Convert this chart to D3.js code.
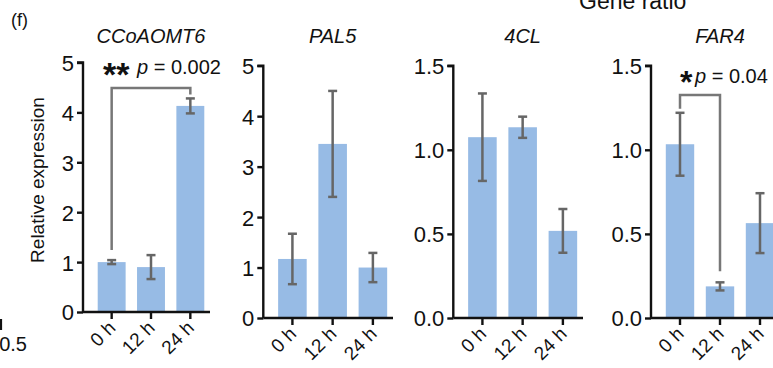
<!DOCTYPE html>
<html><head><meta charset="utf-8">
<script src="https://cdn.jsdelivr.net/npm/d3@7"></script>
<style>
html,body{margin:0;padding:0;background:#fff;}
svg{display:block;font-family:"Liberation Sans",Arial,Helvetica,sans-serif;}
</style></head>
<body>
<svg id="chart" width="773" height="368"></svg>
<script>
// ---- data ----
const categories = ["0 h", "12 h", "24 h"];
const genes = ["CCoAOMT6", "PAL5", "4CL", "FAR4"];
const ccoaomt6Mean = [1.00, 0.90, 4.13];
const ccoaomt6Err  = [0.04, 0.24, 0.15];
const pal5Mean = [1.17, 3.45, 1.00];
const pal5Err  = [0.50, 1.05, 0.29];
const cl4Mean = [1.075, 1.134, 0.518];
const cl4Err  = [0.26, 0.063, 0.13];
const far4Mean = [1.033, 0.188, 0.564];
const far4Err  = [0.187, 0.024, 0.178];
const yMaxes = [5, 5, 1.5, 1.5];
const tickSetInt = [0, 1, 2, 3, 4, 5];
const tickSetDec = [0, 0.5, 1.0, 1.5];
const sigFrom = [0, 0];
const sigTo = [2, 1];
const sigStars = ["**", "*"];
const sigText = ["p = 0.002", "p = 0.04"];
const sigGene = ["CCoAOMT6", "FAR4"];

const means = [ccoaomt6Mean, pal5Mean, cl4Mean, far4Mean];
const errs = [ccoaomt6Err, pal5Err, cl4Err, far4Err];
const tickSets = [tickSetInt, tickSetInt, tickSetDec, tickSetDec];
const tickFmts = [d3.format("d"), d3.format("d"), d3.format(".1f"), d3.format(".1f")];

// ---- layout ----
const layout = [
  {ax: 83,    end: 210,   y0: 312,   y1: 62.5},
  {ax: 263.3, end: 393,   y0: 318,   y1: 65.7},
  {ax: 453.3, end: 583,   y0: 318,   y1: 65.7},
  {ax: 651,   end: 780,   y0: 318,   y1: 65.7}
];
const FONT = "Liberation Sans, Arial, sans-serif";
const barColor = "#97bbe5";
const errColor = "#666666";
const svg = d3.select("#chart");

// panel letter and header
svg.append("text").attr("x", 11).attr("y", 26).attr("font-size", 18).attr("fill", "#111").text("(f)");
svg.append("text").attr("x", 579).attr("y", 9).attr("font-size", 23).attr("fill", "#111").text("Gene ratio");
// remnant of neighbouring panel
svg.append("text").attr("x", 27).attr("y", 351).attr("text-anchor", "end").attr("font-size", 20).attr("fill", "#111").text("0.5");
svg.append("line").attr("x1", 1).attr("x2", 1).attr("y1", 319).attr("y2", 330).attr("stroke", "#111").attr("stroke-width", 2.2);

genes.forEach((g, gi) => {
  const L = layout[gi];
  const y = d3.scaleLinear().domain([0, yMaxes[gi]]).range([L.y0, L.y1]);
  const x = d3.scaleBand().domain(categories).range([L.ax + 9, L.end]).paddingInner(0.29).paddingOuter(0.145);
  const G = svg.append("g");

  // bars
  G.selectAll("rect.bar").data(means[gi]).enter().append("rect")
    .attr("x", (d, i) => x(categories[i]))
    .attr("width", x.bandwidth())
    .attr("y", d => y(d))
    .attr("height", d => y(0) - y(d))
    .attr("fill", barColor);

  // error bars
  const eb = G.selectAll("g.err").data(means[gi]).enter().append("g")
    .attr("stroke", errColor).attr("stroke-width", 2.5);
  eb.append("line")
    .attr("x1", (d, i) => x(categories[i]) + x.bandwidth() / 2)
    .attr("x2", (d, i) => x(categories[i]) + x.bandwidth() / 2)
    .attr("y1", (d, i) => y(d + errs[gi][i]))
    .attr("y2", (d, i) => y(d - errs[gi][i]));
  [1, -1].forEach(s => {
    eb.append("line")
      .attr("x1", (d, i) => x(categories[i]) + x.bandwidth() / 2 - 4.5)
      .attr("x2", (d, i) => x(categories[i]) + x.bandwidth() / 2 + 4.5)
      .attr("y1", (d, i) => y(d + s * errs[gi][i]))
      .attr("y2", (d, i) => y(d + s * errs[gi][i]));
  });

  // y axis
  const yAxis = d3.axisLeft(y).tickValues(tickSets[gi]).tickFormat(tickFmts[gi]).tickSize(6).tickPadding(3);
  const ya = G.append("g").attr("transform", `translate(${L.ax},0)`).call(yAxis);
  ya.select(".domain").attr("stroke", "#111").attr("stroke-width", 2.4)
    .attr("d", `M-6,${L.y1}H0V${L.y0}`);
  ya.selectAll(".tick line").attr("stroke", "#111").attr("stroke-width", 2.4);
  ya.selectAll(".tick text").attr("font-size", 22).attr("fill", "#111").attr("font-family", FONT)
    .attr("dy", "0.36em");

  // x axis
  const xAxis = d3.axisBottom(x).tickSize(7).tickPadding(4);
  const xa = G.append("g").attr("transform", `translate(0,${L.y0})`).call(xAxis);
  xa.select(".domain").attr("stroke", "#111").attr("stroke-width", 2.4)
    .attr("d", `M${L.ax},0H${L.end}`);
  xa.selectAll(".tick line").attr("stroke", "#111").attr("stroke-width", 2.4);
  xa.selectAll(".tick text")
    .attr("font-size", 19).attr("fill", "#111").attr("font-family", FONT)
    .attr("text-anchor", "end").attr("dy", null)
    .attr("transform", "translate(5,17) rotate(-45)")
    .attr("y", 0).attr("x", 0);

  // title
  G.append("text").attr("x", (L.ax + 9 + L.end) / 2).attr("y", 43)
    .attr("text-anchor", "middle").attr("font-size", 20).attr("font-style", "italic").attr("fill", "#111").text(g);

  // significance bracket
  sigGene.forEach((sg, si) => {
    if (sg !== g) return;
    const xa0 = x(categories[sigFrom[si]]) + x.bandwidth() / 2;
    const xa1 = x(categories[sigTo[si]]) + x.bandwidth() / 2;
    const topY = gi === 0 ? 88 : 95;
    const f = sigFrom[si], t = sigTo[si];
    const yA = y(means[gi][f] + errs[gi][f]) - (gi === 0 ? 10 : 4);
    const yB = y(means[gi][t] + errs[gi][t]) - (gi === 0 ? 4 : 11);
    G.append("path").attr("d", `M${xa0},${yA}V${topY}H${xa1}V${yB}`)
      .attr("fill", "none").attr("stroke", "#777").attr("stroke-width", 2.5);
    const ty = gi === 0 ? 74 : 83;
    G.append("text").attr("x", gi === 0 ? 103 : 680).attr("y", gi === 0 ? 86 : 93).attr("font-size", gi === 0 ? 34 : 32)
      .attr("font-weight", "bold").attr("fill", "#111").text(sigStars[si]);
    G.append("text").attr("x", gi === 0 ? 137 : 695).attr("y", ty).attr("font-size", 20).attr("fill", "#111")
      .html(`<tspan font-style="italic">p</tspan>${sigText[si].slice(1)}`);
  });

  if (gi === 0) {
    G.append("text").attr("transform", `translate(44,180) rotate(-90)`)
      .attr("text-anchor", "middle").attr("font-size", 19).attr("fill", "#111").text("Relative expression");
  }
});
</script>
</body></html>
